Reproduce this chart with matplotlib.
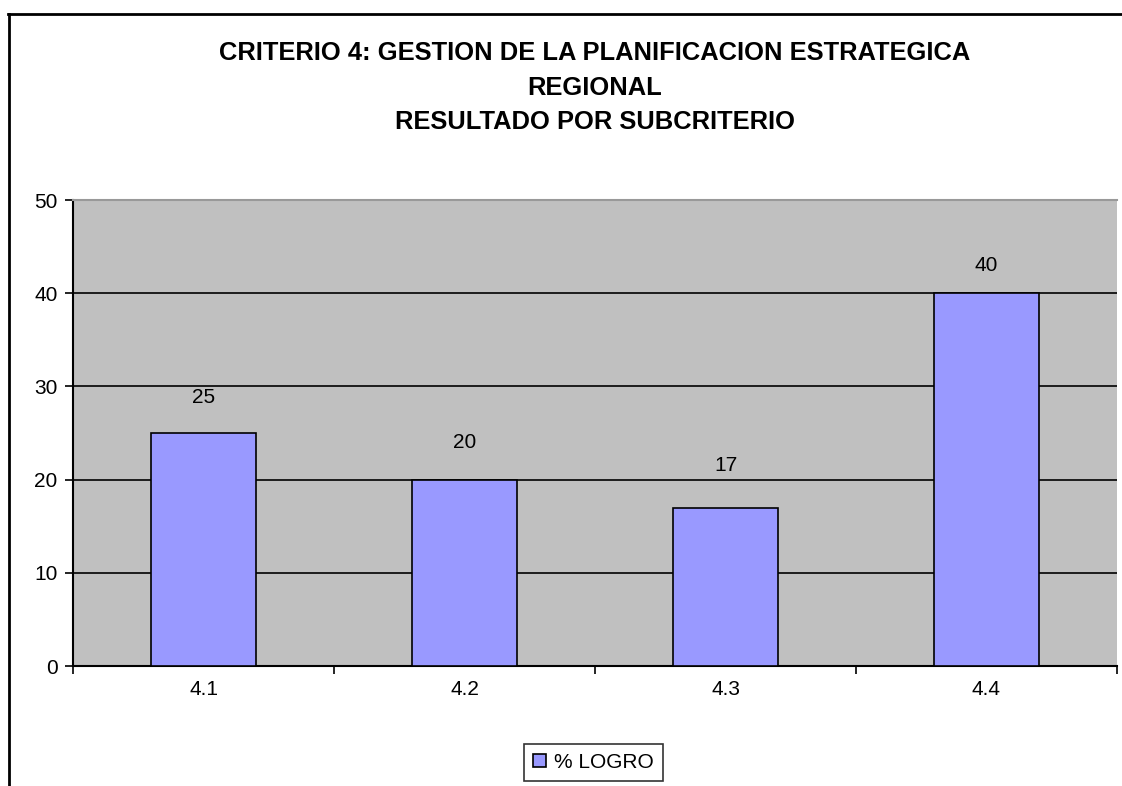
import matplotlib
matplotlib.use("Agg")
import matplotlib.pyplot as plt
from matplotlib.lines import Line2D
from matplotlib.patches import Patch
import numpy as np

plt.rcParams['font.family'] = ['Liberation Sans', 'DejaVu Sans']

categories = ["4.1", "4.2", "4.3", "4.4"]
values = [25, 20, 17, 40]
series_name = "% LOGRO"
title_lines = ["CRITERIO 4: GESTION DE LA PLANIFICACION ESTRATEGICA",
               "REGIONAL",
               "RESULTADO POR SUBCRITERIO"]
yticks = [0, 10, 20, 30, 40, 50]

# label offsets above bar tops (data units) - styling
label_offsets = [3.8, 4.0, 4.5, 3.0]

W, H = 1122, 786
fig = plt.figure(figsize=(W / 100, H / 100), dpi=100)
fig.patch.set_facecolor('white')

# outer frame (left and top lines)
fig.add_artist(Line2D([9 / W, 9 / W], [0, 1 - 14 / H], transform=fig.transFigure,
                      color='black', lw=2))
fig.add_artist(Line2D([8 / W, 1], [1 - 14 / H, 1 - 14 / H], transform=fig.transFigure,
                      color='black', lw=2))

ax = fig.add_axes([73 / W, (H - 666) / H, (1117 - 73) / W, (666 - 200) / H])
ax.set_facecolor('#C0C0C0')

x = np.arange(len(categories))
ax.bar(x, values, width=0.405, color='#9999FF', edgecolor='black', linewidth=1.2, zorder=3)

for xi, v, off in zip(x, values, label_offsets):
    ax.text(xi, v + off, f"{v}", ha='center', va='center', fontsize=15, color='black', zorder=4)

ax.set_xlim(-0.5, len(categories) - 0.5)
ax.set_ylim(0, 50)
ax.set_yticks(yticks)
ax.set_yticklabels([str(t) for t in yticks], fontsize=15)
for t in yticks[1:-1]:
    ax.axhline(t, color='black', lw=1.2, zorder=2)

# category boundaries as major ticks, labels at centers as minor
ax.set_xticks(np.arange(-0.5, len(categories), 1.0))
ax.set_xticklabels([])
ax.set_xticks(x, minor=True)
ax.set_xticklabels(categories, minor=True, fontsize=15)
ax.tick_params(axis='x', which='major', direction='out', length=6, width=1.2, color='black')
ax.tick_params(axis='x', which='minor', length=0, pad=10)
ax.tick_params(axis='y', direction='out', length=6, width=1.2, pad=5)

ax.spines['left'].set_color('black')
ax.spines['left'].set_linewidth(1.5)
ax.spines['bottom'].set_color('black')
ax.spines['bottom'].set_linewidth(1.5)
ax.spines['top'].set_color('#999999')
ax.spines['top'].set_linewidth(1.5)
ax.spines['right'].set_visible(False)

# title lines
title_y = [53, 88, 122]
for line, ty in zip(title_lines, title_y):
    fig.text(595 / W, 1 - ty / H, line, ha='center', va='center', fontsize=18.4,
             fontweight='bold', color='black')

# legend
handles = [Patch(facecolor='#9999FF', edgecolor='black', linewidth=1.2, label=series_name)]
leg = fig.legend(handles=handles, loc='center', bbox_to_anchor=(593.5 / W, 1 - 762.5 / H),
                 fontsize=15, frameon=True, fancybox=False, edgecolor='black',
                 handlelength=0.6, handleheight=0.6, handletextpad=0.4, borderpad=0.45)
leg.get_frame().set_linewidth(1.2)

fig.savefig("out.png", dpi=100, facecolor='white')
